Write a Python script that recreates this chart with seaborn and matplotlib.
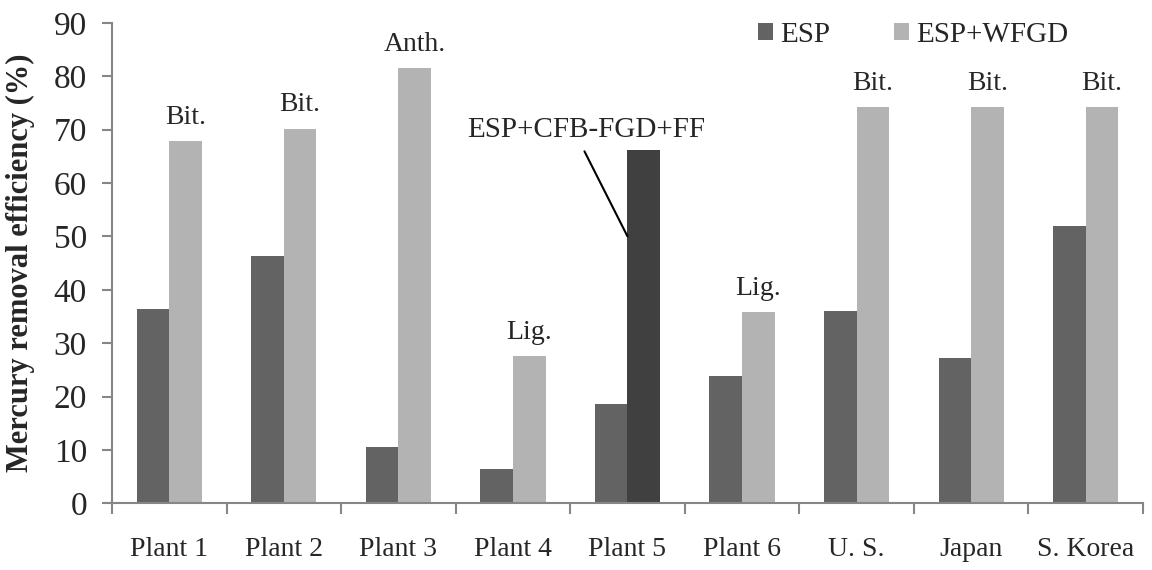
import matplotlib
matplotlib.use('Agg')
import numpy as np
import pandas as pd
import matplotlib.pyplot as plt
import seaborn as sns

# values
sites = ['Plant 1', 'Plant 2', 'Plant 3', 'Plant 4', 'Plant 5', 'Plant 6',
         'U. S.', 'Japan', 'S. Korea']
esp = [36.4, 46.4, 10.5, 6.4, 18.6, 23.8, 36.1, 27.2, 52.0]
esp_wfgd = [67.9, 70.2, 81.6, 27.6, 66.1, 35.8, 74.3, 74.3, 74.3]
coal = ['Bit.', 'Bit.', 'Anth.', 'Lig.', '', 'Lig.', 'Bit.', 'Bit.', 'Bit.']
special_site = 'Plant 5'
special_label = 'ESP+CFB-FGD+FF'

df = pd.DataFrame({'site': sites * 2,
                   'config': ['ESP'] * len(sites) + ['ESP+WFGD'] * len(sites),
                   'eff': esp + esp_wfgd})

sns.set_style('ticks')
plt.rcParams['font.family'] = ['Liberation Serif', 'DejaVu Serif']

fig, ax = plt.subplots(figsize=(11.52, 5.70), dpi=100)
fig.subplots_adjust(left=0.0972, right=0.9922, bottom=0.117, top=0.960)

sns.barplot(data=df, x='site', y='eff', hue='config',
            palette=['#636363', '#b3b3b3'], width=0.57, saturation=1,
            linewidth=0, errorbar=None, ax=ax)

# the Plant 5 second bar is a different configuration
k = sites.index(special_site)
sp = ax.containers[1][k]
sp.set_facecolor('#404040')

# coal type labels above second bar
for i, lab in enumerate(coal):
    if not lab:
        continue
    b = ax.containers[1][i]
    ax.text(b.get_x() + b.get_width() / 2, b.get_height() + 3.2, lab,
            ha='center', va='baseline', fontsize=20)

ax.annotate(special_label, xy=(sp.get_x(), 50.0), xytext=(3.64, 69.9),
            ha='center', va='center', fontsize=21,
            arrowprops=dict(arrowstyle='-', color='black', lw=1.5,
                            relpos=(0.475, 0), shrinkA=4, shrinkB=0))

ax.set_ylim(0, 90)
ax.set_xlim(-0.5, len(sites) - 0.5)
ax.set_yticks(np.arange(0, 91, 10))
ax.set_xticks(np.arange(-0.5, len(sites), 1), minor=True)

sns.despine(ax=ax)
for s in ['left', 'bottom']:
    ax.spines[s].set_color('#868686')
    ax.spines[s].set_linewidth(1.5)

ax.tick_params(axis='y', left=True, length=7, width=1.5, color='#868686',
               pad=11, labelsize=24)
ax.tick_params(axis='x', which='major', bottom=True, length=0, pad=24,
               labelsize=20)
ax.tick_params(axis='x', which='minor', bottom=True, length=8, width=1.5,
               color='#868686', direction='out')

ax.set_xlabel('')
ax.set_ylabel('Mercury removal efficiency (%)', fontsize=22, fontweight='bold')
ax.yaxis.set_label_coords(-0.0747, 0.5)

handles, labels = ax.get_legend_handles_labels()
ax.legend(handles, labels, loc='center left', bbox_to_anchor=(0.627, 0.975),
          ncol=2, frameon=False, fontsize=21, handlelength=0.5,
          handleheight=0.5, handletextpad=0.25, columnspacing=2.2,
          borderpad=0, borderaxespad=0)

plt.savefig('out.png', dpi=100)
